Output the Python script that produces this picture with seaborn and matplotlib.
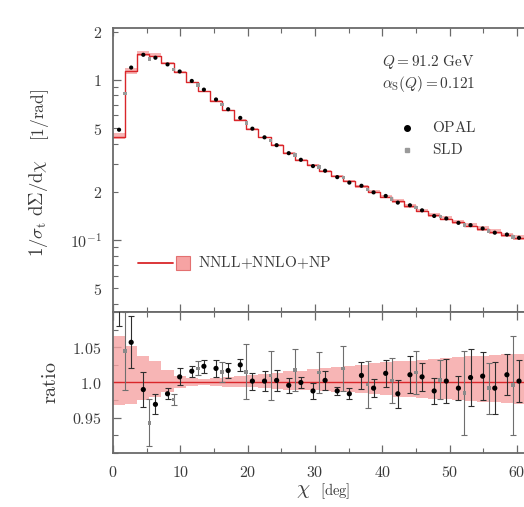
import numpy as np
import pandas as pd
import matplotlib
matplotlib.use("Agg")
import matplotlib.pyplot as plt
import seaborn as sns
from matplotlib.ticker import MultipleLocator, FixedLocator, LogLocator, FuncFormatter
from matplotlib.lines import Line2D
from matplotlib.patches import Rectangle

# ---------------- data ----------------
bin_width = 1.8  # degrees
# theory NNLL+NNLO+NP, one value per 1.8 deg bin starting at 0
theory = [0.44, 1.13, 1.45, 1.42, 1.27, 1.12, 0.97, 0.85, 0.74, 0.645,
          0.565, 0.495, 0.437, 0.39, 0.35, 0.317, 0.293, 0.27, 0.25, 0.232,
          0.216, 0.20, 0.186, 0.174, 0.163, 0.152, 0.143, 0.136, 0.129, 0.123,
          0.117, 0.112, 0.107, 0.103, 0.099, 0.095]
# theory uncertainty band (ratio to central), per bin
band_up = [1.066, 1.052, 1.038, 1.030, 1.018, 1.009, 1.006, 1.005, 1.006, 1.008,
           1.009, 1.010, 1.012, 1.014, 1.016, 1.017, 1.019, 1.020, 1.022, 1.024,
           1.025, 1.027, 1.029, 1.030, 1.031, 1.032, 1.034, 1.035, 1.036, 1.037,
           1.038, 1.039, 1.040, 1.041, 1.042, 1.043]
band_dn = [0.968, 0.970, 0.975, 0.980, 0.986, 0.992, 0.995, 0.996, 0.995, 0.994,
           0.993, 0.993, 0.992, 0.991, 0.990, 0.990, 0.989, 0.988, 0.987, 0.986,
           0.985, 0.984, 0.982, 0.980, 0.979, 0.978, 0.977, 0.976, 0.975, 0.974,
           0.973, 0.972, 0.971, 0.970, 0.970, 0.969]
# OPAL data / theory (one per 1.8 deg bin)
opal_ratio = [1.110, 1.057, 0.990, 0.969, 0.984, 1.008, 1.016, 1.023, 1.020, 1.017,
              1.025, 1.002, 1.002, 1.003, 0.996, 1.000, 0.988, 1.003, 0.988, 0.984,
              1.010, 0.992, 1.013, 0.984, 1.011, 1.008, 0.988, 1.002, 0.992, 1.007,
              1.009, 0.992, 1.011, 1.002]
opal_err = [0.030, 0.037, 0.025, 0.014, 0.008, 0.012, 0.008, 0.009, 0.012, 0.010,
            0.008, 0.012, 0.014, 0.015, 0.011, 0.008, 0.011, 0.013, 0.006, 0.008,
            0.019, 0.013, 0.019, 0.020, 0.026, 0.020, 0.019, 0.031, 0.017, 0.040,
            0.034, 0.037, 0.029, 0.030]
# SLD data / theory (one per 3.6 deg bin)
sld_ratio = [1.045, 0.943, 0.976, 1.020, 1.015, 1.015, 1.010, 1.018, 1.014, 1.020,
             0.997, 1.003, 1.014, 1.004, 0.985, 0.992, 0.996]
sld_err = [0.055, 0.033, 0.008, 0.010, 0.014, 0.039, 0.035, 0.030, 0.029, 0.032,
           0.033, 0.032, 0.031, 0.028, 0.060, 0.036, 0.070]

x_ticks = [0, 10, 20, 30, 40, 50, 60]

# ---------------- derived arrays ----------------
th = np.array(theory)
edges = np.arange(len(th) + 1) * bin_width
centres = 0.5 * (edges[:-1] + edges[1:])
opal_x = centres[:len(opal_ratio)]
opal_val = th[:len(opal_ratio)] * np.array(opal_ratio)
sld_x = edges[1:2 * len(sld_ratio):2]
sld_th = 0.5 * (th[0:2 * len(sld_ratio):2] + th[1:2 * len(sld_ratio):2])
sld_val = sld_th * np.array(sld_ratio)

# ---------------- style ----------------
sns.set_theme(style="ticks")
plt.rcParams["mathtext.fontset"] = "cm"
plt.rcParams["font.family"] = ["DejaVu Serif"]

RED = "#d9262a"
PINK = "#f6a3a3"
SPINE = "#6a6a6a"
TXT = "#3a3a3a"

W, H = 524, 507
fig = plt.figure(figsize=(W / 100, H / 100), dpi=100)
def fx(x):
    return x / W
def fy(y):
    return 1 - y / H

x0, x60 = 113, 517
ppu = (x60 - x0) / 60.0
xmax = 70
left = fx(x0)
width = xmax * ppu / W
ax1 = fig.add_axes([left, fy(312), width, (312 - 28) / H])
ax2 = fig.add_axes([left, fy(453), width, (453 - 312) / H], sharex=ax1)

# ---------------- top panel ----------------
ext = lambda a: np.append(a, a[-1])
ax1.fill_between(edges, ext(th * np.array(band_dn)), ext(th * np.array(band_up)),
                 step="post", color=PINK, lw=0, alpha=0.8, zorder=1)
df_th = pd.DataFrame({"chi": edges, "val": ext(th)})
sns.lineplot(data=df_th, x="chi", y="val", drawstyle="steps-post", color=RED,
             lw=1.0, ax=ax1, estimator=None, sort=False, zorder=2)
sns.scatterplot(x=sld_x, y=sld_val, color="#9a9a9a", marker="s", s=6,
                edgecolor="none", ax=ax1, zorder=3)
sns.scatterplot(x=opal_x, y=opal_val, color="black", marker="o", s=9,
                edgecolor="none", ax=ax1, zorder=4)
ax1.set_yscale("log")
ax1.set_ylim(0.0355, 2.11)
ax1.set_xlim(0, xmax)
ax1.yaxis.set_major_locator(FixedLocator([0.1, 1]))
ax1.yaxis.set_major_formatter(FuncFormatter(lambda v, p: r"$10^{-1}$" if abs(v - 0.1) < 1e-9 else r"$1$"))
ax1.yaxis.set_minor_locator(LogLocator(base=10, subs=np.arange(2, 10)))
def minor_fmt(v, p):
    for t, lab in [(0.05, "5"), (0.2, "2"), (0.5, "5"), (2.0, "2")]:
        if abs(v - t) / t < 1e-6:
            return "$" + lab + "$"
    return ""
ax1.yaxis.set_minor_formatter(FuncFormatter(minor_fmt))
ax1.set_xlabel("")
ax1.set_ylabel("")
plt.setp(ax1.get_xticklabels(), visible=False)

# ---------------- ratio panel ----------------
ax2.fill_between(edges, ext(np.array(band_dn)), ext(np.array(band_up)),
                 step="post", color=PINK, lw=0, alpha=0.8, zorder=1)
df_one = pd.DataFrame({"chi": edges, "val": ext(th / th)})
sns.lineplot(data=df_one, x="chi", y="val", drawstyle="steps-post", color=RED,
             lw=1.0, ax=ax2, estimator=None, sort=False, zorder=2)
ax2.errorbar(sld_x, sld_ratio, yerr=sld_err, fmt="none", ecolor="#6e6e6e",
             elinewidth=0.8, capsize=2.2, capthick=0.8, zorder=3)
ax2.errorbar(opal_x, opal_ratio, yerr=opal_err, fmt="none", ecolor="#2e2e2e",
             elinewidth=0.8, capsize=2.2, capthick=0.8, zorder=3)
sns.scatterplot(x=sld_x, y=sld_ratio, color="#8a8a8a", marker="s", s=7,
                edgecolor="none", ax=ax2, zorder=4)
sns.scatterplot(x=opal_x, y=opal_ratio, color="black", marker="o", s=14,
                edgecolor="none", ax=ax2, zorder=5)
ax2.set_ylim(0.9, 1.1)
ax2.set_yticks([0.95, 1.0, 1.05], [r"$0.95$", r"$1.0$", r"$1.05$"])
ax2.yaxis.set_minor_locator(MultipleLocator(0.025))
ax2.set_xticks(x_ticks, [r"$%d$" % t for t in x_ticks])
ax2.xaxis.set_minor_locator(MultipleLocator(5))
ax2.set_xlabel("")
ax2.set_ylabel("")

for ax in (ax1, ax2):
    for s in ax.spines.values():
        s.set_color(SPINE)
        s.set_linewidth(1.3)
    ax.tick_params(which="both", direction="in", top=True, right=True,
                   color=SPINE, labelcolor=TXT, labelsize=11.5)
    ax.tick_params(which="major", length=6, width=0.9, pad=8)
    ax.tick_params(which="minor", length=3.5, width=0.8, pad=8)
ax1.xaxis.set_minor_locator(MultipleLocator(5))

# ---------------- labels and legends ----------------
fig.text(fx(38), fy(257), r"$1/\sigma_{\rm t}\ {\rm d}\Sigma/{\rm d}\chi$",
         rotation=90, ha="center", va="bottom", fontsize=13.5, color=TXT)
fig.text(fx(40), fy(141), r"$[1/{\rm rad}]$", rotation=90, ha="center",
         va="bottom", fontsize=12.5, color=TXT)
fig.text(fx(50), fy(383), r"${\rm ratio}$", rotation=90, ha="center",
         va="center", fontsize=14.5, color=TXT)
fig.text(fx(303), fy(491), r"$\chi$", ha="center", va="center",
         fontsize=15, color=TXT)
fig.text(fx(320), fy(491), r"$[{\rm deg}]$", ha="left", va="center",
         fontsize=10.5, color=TXT)

fig.text(fx(382), fy(62), r"$Q = 91.2\ {\rm GeV}$", ha="left", va="center",
         fontsize=11, color=TXT)
fig.text(fx(382), fy(84), r"$\alpha_{\rm S}(Q) = 0.121$", ha="left",
         va="center", fontsize=11, color=TXT)
fig.add_artist(Line2D([fx(407)], [fy(128)], marker="o", ms=4.0, color="black",
                      lw=0, transform=fig.transFigure))
fig.text(fx(432), fy(128), r"${\rm OPAL}$", ha="left", va="center",
         fontsize=11, color=TXT)
fig.add_artist(Line2D([fx(407)], [fy(150)], marker="s", ms=2.8, color="#9a9a9a",
                      lw=0, transform=fig.transFigure))
fig.text(fx(432), fy(150), r"${\rm SLD}$", ha="left", va="center",
         fontsize=11, color=TXT)

fig.add_artist(Line2D([fx(138), fx(173)], [fy(263), fy(263)], color=RED, lw=1.3,
                      transform=fig.transFigure))
fig.add_artist(Rectangle((fx(176), fy(270)), 14 / W, 14 / H, facecolor=PINK,
                         edgecolor="#e37070", lw=0.8, transform=fig.transFigure))
fig.text(fx(198), fy(263), r"${\rm NNLL{+}NNLO{+}NP}$", ha="left", va="center",
         fontsize=11, color=TXT)

fig.savefig("out.png", dpi=100)
